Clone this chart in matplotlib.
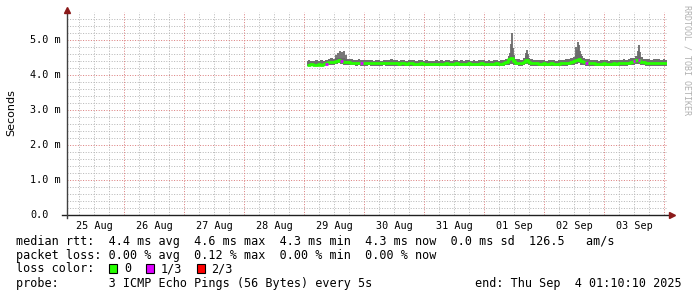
import matplotlib
matplotlib.use("Agg")
import matplotlib.pyplot as plt
from matplotlib.patches import Rectangle
import matplotlib.transforms as mtransforms

# ---------------- data ----------------
# time axis: hours since 25 Aug 00:00; window ends Thu Sep 4 01:10:10
x_start = 1.1694
x_end = 241.1694
day_labels = ["25 Aug", "26 Aug", "27 Aug", "28 Aug", "29 Aug",
              "30 Aug", "31 Aug", "01 Sep", "02 Sep", "03 Sep"]

# hourly samples from 29 Aug 01:00 (h=97) to 4 Sep 01:00 (h=241)
hours = list(range(97, 242))

# upper edge of the smoke band, ms
smoke_hi = [
    4.41, 4.42, 4.41, 4.40, 4.42, 4.41, 4.43, 4.41,
    4.44, 4.46,
    4.48, 4.47, 4.49, 4.50, 4.50, 4.49, 4.47, 4.46, 4.45,
    4.44, 4.43, 4.45, 4.43, 4.42,
    4.43, 4.44, 4.42, 4.41, 4.43, 4.42, 4.41, 4.44, 4.43, 4.42,
    4.45, 4.43, 4.42, 4.41, 4.42, 4.43, 4.41, 4.42, 4.44, 4.42,
    4.41, 4.42, 4.43, 4.41, 4.42, 4.41, 4.40, 4.41, 4.42, 4.41,
    4.42, 4.41, 4.43, 4.42, 4.41, 4.42, 4.43, 4.41, 4.42, 4.41,
    4.42, 4.43, 4.41, 4.42, 4.41, 4.42, 4.43, 4.42, 4.41, 4.42,
    4.41, 4.42, 4.43, 4.41, 4.42, 4.44,
    4.47, 4.55, 4.60, 4.52, 4.46,
    4.45, 4.44,
    4.50, 4.55, 4.48,
    4.46, 4.44, 4.43, 4.42,
    4.42, 4.43, 4.41, 4.42, 4.43, 4.42, 4.41, 4.42, 4.43, 4.44,
    4.45, 4.46,
    4.48, 4.52, 4.58, 4.60, 4.55, 4.50, 4.47,
    4.46, 4.44, 4.43, 4.42, 4.41, 4.42, 4.43, 4.42, 4.41, 4.42, 4.43,
    4.42, 4.43, 4.44, 4.45, 4.44, 4.46,
    4.48, 4.50, 4.55, 4.58, 4.52, 4.47,
    4.46, 4.45, 4.44, 4.45, 4.46, 4.45, 4.44, 4.45, 4.44,
]

# median rtt, ms
median = [
    4.30, 4.30, 4.31, 4.30, 4.30, 4.31, 4.30, 4.31,
    4.33, 4.36,
    4.38, 4.37, 4.39, 4.42, 4.40, 4.37, 4.36, 4.37, 4.35,
    4.34, 4.34, 4.35, 4.34, 4.33,
    4.34, 4.34, 4.33, 4.33, 4.34, 4.33, 4.33, 4.34, 4.33, 4.33,
    4.34, 4.33, 4.33, 4.32, 4.33, 4.33, 4.32, 4.33, 4.33, 4.32,
    4.32, 4.32, 4.33, 4.32, 4.32, 4.32, 4.31, 4.32, 4.32, 4.32,
    4.32, 4.32, 4.33, 4.32, 4.32, 4.32, 4.33, 4.32, 4.32, 4.32,
    4.32, 4.33, 4.32, 4.32, 4.32, 4.32, 4.33, 4.32, 4.32, 4.32,
    4.32, 4.32, 4.33, 4.32, 4.32, 4.33,
    4.36, 4.45, 4.50, 4.40, 4.35,
    4.34, 4.33,
    4.38, 4.42, 4.36,
    4.34, 4.33, 4.33, 4.32,
    4.32, 4.33, 4.32, 4.32, 4.33, 4.32, 4.32, 4.32, 4.33, 4.33,
    4.34, 4.35,
    4.37, 4.40, 4.44, 4.46, 4.40, 4.36, 4.35,
    4.34, 4.33, 4.33, 4.32, 4.32, 4.32, 4.33, 4.32, 4.32, 4.32, 4.33,
    4.32, 4.33, 4.33, 4.34, 4.33, 4.35,
    4.37, 4.40, 4.42, 4.44, 4.38, 4.36,
    4.34, 4.33, 4.33, 4.34, 4.34, 4.33, 4.33, 4.34, 4.33,
]

# lower edge of the smoke band, ms
smoke_lo = [
    4.27, 4.27, 4.26, 4.27, 4.27, 4.26, 4.27, 4.27,
    4.28, 4.29,
    4.30, 4.29, 4.31, 4.33, 4.32, 4.30, 4.29, 4.29, 4.28,
    4.28, 4.27, 4.28, 4.27, 4.27,
    4.27, 4.28, 4.27, 4.27, 4.27, 4.26, 4.27, 4.28, 4.27, 4.27,
    4.27, 4.27, 4.26, 4.27, 4.27, 4.27, 4.26, 4.27, 4.27, 4.27,
    4.27, 4.26, 4.27, 4.27, 4.27, 4.26, 4.27, 4.27, 4.27, 4.26,
    4.27, 4.27, 4.27, 4.26, 4.27, 4.27, 4.27, 4.26, 4.27, 4.27,
    4.27, 4.27, 4.26, 4.27, 4.27, 4.27, 4.27, 4.26, 4.27, 4.27,
    4.27, 4.27, 4.27, 4.26, 4.27, 4.27,
    4.28, 4.30, 4.32, 4.29, 4.28,
    4.27, 4.27,
    4.29, 4.31, 4.28,
    4.27, 4.27, 4.26, 4.27,
    4.27, 4.27, 4.26, 4.27, 4.27, 4.27, 4.26, 4.27, 4.27, 4.27,
    4.27, 4.28,
    4.29, 4.30, 4.32, 4.33, 4.30, 4.28, 4.27,
    4.27, 4.27, 4.26, 4.27, 4.27, 4.27, 4.26, 4.27, 4.27, 4.25, 4.27,
    4.27, 4.27, 4.27, 4.27, 4.27, 4.28,
    4.29, 4.30, 4.31, 4.32, 4.29, 4.28,
    4.27, 4.27, 4.27, 4.27, 4.27, 4.27, 4.27, 4.27, 4.27,
]

# short latency spikes (max ping) at finer time resolution
spike_hours = [108.8, 109.6, 110.4, 111.2, 112.0, 112.8,
               178.4, 178.8, 179.2, 179.6, 180.0,
               184.8, 185.2, 185.6,
               204.8, 205.2, 205.6, 206.0, 206.4, 206.8,
               229.6, 230.0, 230.4]
spike_tops = [4.57, 4.62, 4.69, 4.66, 4.68, 4.58,
              4.62, 4.90, 5.20, 4.76, 4.58,
              4.62, 4.71, 4.60,
              4.80, 4.72, 4.94, 4.86, 4.70, 4.60,
              4.68, 4.86, 4.66]

# hours where 1 of 3 pings was lost
loss_hours = [105, 111, 119, 209, 228, 230]
loss_median = [4.31, 4.40, 4.34, 4.35, 4.40, 4.42]

y_ticks = [0.0, 1.0, 2.0, 3.0, 4.0, 5.0]
y_tick_labels = ["0.0", "1.0 m", "2.0 m", "3.0 m", "4.0 m", "5.0 m"]
y_max = 5.8

legend_lines = [
    "median rtt:  4.4 ms avg  4.6 ms max  4.3 ms min  4.3 ms now  0.0 ms sd  126.5   am/s",
    "packet loss: 0.00 % avg  0.12 % max  0.00 % min  0.00 % now",
    "loss color:",
    "probe:       3 ICMP Echo Pings (56 Bytes) every 5s",
]
loss_labels = ["0", "1/3", "2/3"]
loss_colors = ["#26ff00", "#dd00ff", "#ff0000"]
end_text = "end: Thu Sep  4 01:10:10 2025"

# ---------------- figure ----------------
W, H = 697, 297
fig = plt.figure(figsize=(W / 100, H / 100), dpi=100, facecolor="white")

def fx(px):
    return px / W

def fy(py):
    return 1 - py / H

ax_l, ax_r, ax_t, ax_b = 67, 667, 12, 215
ax = fig.add_axes([fx(ax_l), fy(ax_b), (ax_r - ax_l) / W, (ax_b - ax_t) / H])
ax.set_facecolor("white")
ax.set_xlim(x_start, x_end)
ax.set_ylim(0, y_max)
for s in ax.spines.values():
    s.set_visible(False)

MONO = "DejaVu Sans Mono"
px_lw = 0.72  # one pixel in points

# grid (dotted)
minor_x = [h for h in range(0, 246, 6) if h % 24 != 0 and x_start < h < x_end]
major_x = [h for h in range(24, 246, 24) if x_start < h < x_end]
minor_y = [v / 10 for v in range(2, 58, 2) if v % 10 != 0]
major_y = [1.0, 2.0, 3.0, 4.0, 5.0]
grid_minor = "#b8b8b8"
grid_major = "#dc8080"
gkw = dict(lw=px_lw, ls=(0, (1, 1.6)), snap=True)
for h in minor_x:
    ax.axvline(h, color=grid_minor, zorder=0, **gkw)
for v in minor_y:
    ax.axhline(v, color=grid_minor, zorder=0, **gkw)
for h in major_x:
    ax.axvline(h, color=grid_major, zorder=0.5, **gkw)
for v in major_y:
    ax.axhline(v, color=grid_major, zorder=0.5, **gkw)

# smoke
ax.fill_between(hours, smoke_lo, smoke_hi, step="mid", color="#707070",
                lw=0, zorder=2)
ax.vlines(spike_hours, 4.40, spike_tops, color="#6a6a6a", lw=1.3,
          snap=True, zorder=2)
# median line
ax.step(hours, median, where="mid", color="#26ff00", lw=2.0, zorder=3,
        solid_capstyle="butt")
for h, m in zip(loss_hours, loss_median):
    ax.plot([h - 0.5, h + 0.5], [m, m], color="#dd00ff", lw=2.0, zorder=4,
            solid_capstyle="butt")

# axes lines + arrows
ax.plot([-0.008, 1.006], [0, 0], transform=ax.transAxes, color="#202020",
        lw=1.0, clip_on=False, zorder=5)
ax.plot([0, 0], [-0.015, 1.01], transform=ax.transAxes, color="#404040",
        lw=1.0, clip_on=False, zorder=5)
ax.plot([0], [1.012], marker="^", ms=4.5, color="#8b1a1a", transform=ax.transAxes,
        clip_on=False, zorder=6)
ax.plot([1.009], [0], marker=">", ms=4.5, color="#8b1a1a", transform=ax.transAxes,
        clip_on=False, zorder=6)

# ticks
ax.set_xticks([12 + 24 * i for i in range(len(day_labels))])
ax.set_xticklabels(day_labels, fontfamily=MONO, fontsize=7.3)
ax.tick_params(axis="x", length=0, pad=4)
ax.set_yticks([])
ytrans = mtransforms.blended_transform_factory(fig.transFigure, ax.transData)
for v, lab in zip(y_ticks, y_tick_labels):
    ax.text(fx(30), v, lab, transform=ytrans, ha="left", va="center",
            fontfamily=MONO, fontsize=7.3, color="black")

fig.text(fx(11), fy(113), "Seconds", rotation=90, ha="center", va="center",
         fontfamily="DejaVu Sans", fontsize=8)
fig.text(fx(687), fy(5), "RRDTOOL / TOBI OETIKER", rotation=-90, ha="center",
         va="top", fontfamily=MONO, fontsize=6, color="#b0b0b0")

# legend / footer
line_y = [241, 255, 269, 283]
for y, txt in zip(line_y, legend_lines):
    fig.text(fx(16), fy(y), txt, ha="left", va="center", fontfamily=MONO,
             fontsize=8.5, color="black")
fig.text(fx(475), fy(283), end_text, ha="left", va="center", fontfamily=MONO,
         fontsize=8.5, color="black")
box_x = [109, 146, 197]
lab_x = [124, 161, 211]
for bx, lx, lab, col in zip(box_x, lab_x, loss_labels, loss_colors):
    fig.patches.append(Rectangle((fx(bx), fy(273)), 8 / W, 9 / H,
                                 transform=fig.transFigure, facecolor=col,
                                 edgecolor="black", lw=0.8))
    fig.text(fx(lx), fy(269), lab, ha="left", va="center", fontfamily=MONO,
             fontsize=8.5, color="black")

fig.savefig("out.png", dpi=100, facecolor="white")
